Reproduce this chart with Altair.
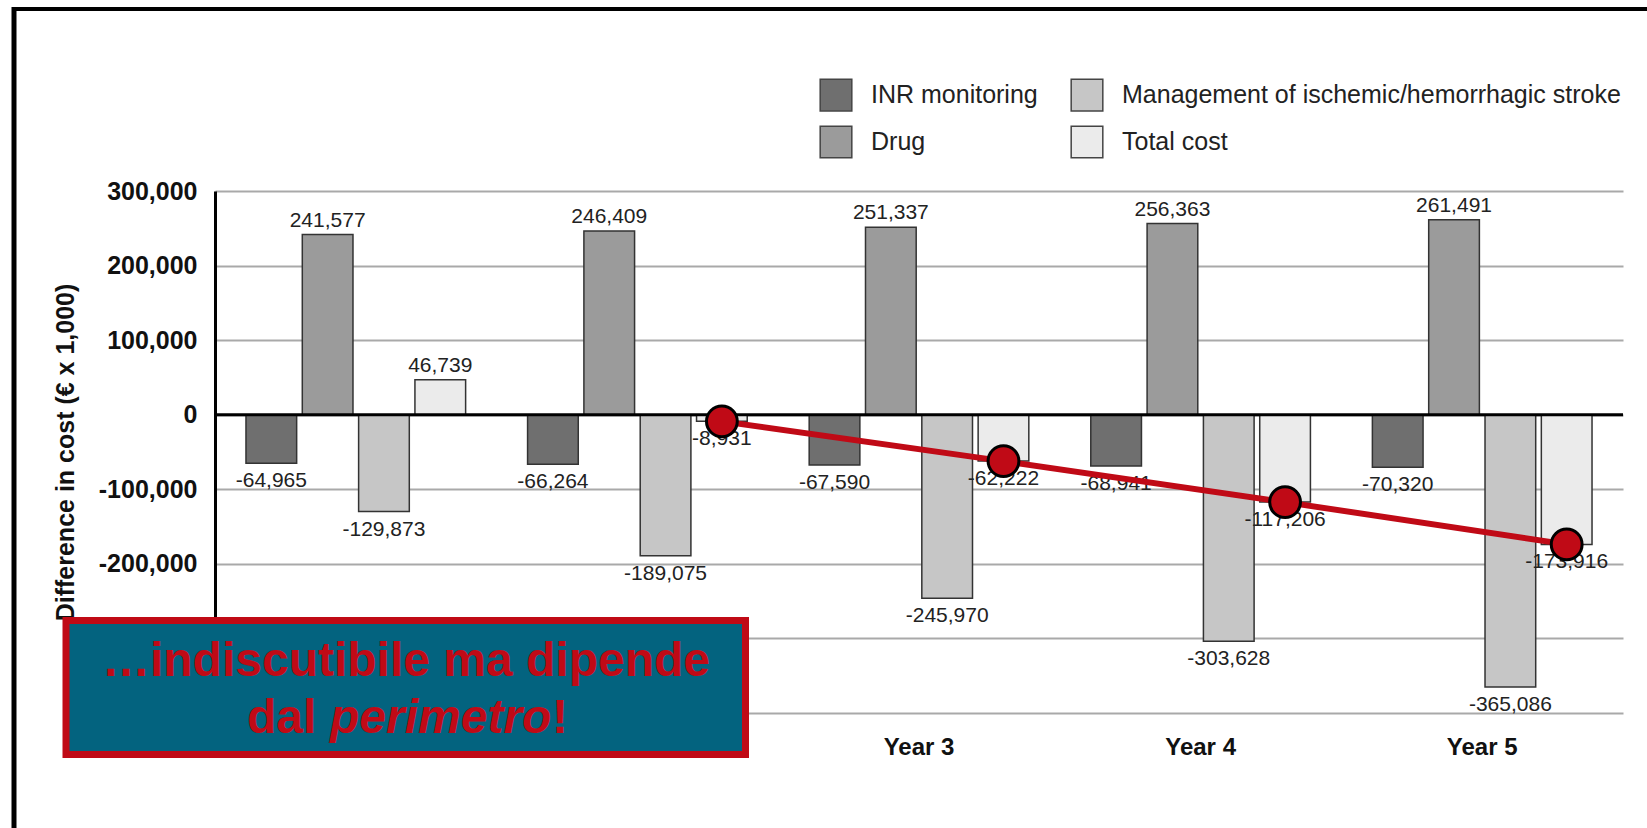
import altair as alt
import pandas as pd

# ---------------- data ----------------
years = ["Year 1", "Year 2", "Year 3", "Year 4", "Year 5"]
series = ["INR monitoring", "Drug", "Management of ischemic/hemorrhagic stroke", "Total cost"]
inr = [-64965, -66264, -67590, -68941, -70320]
drug = [241577, 246409, 251337, 256363, 261491]
mgmt = [-129873, -189075, -245970, -303628, -365086]
total = [46739, -8931, -62222, -117206, -173916]
trend_years = ["Year 2", "Year 3", "Year 4", "Year 5"]
y_ticks = [300000, 200000, 100000, 0, -100000, -200000, -300000, -400000]
series_colors = ["#6f6f6f", "#9b9b9b", "#c6c6c6", "#ebebeb"]
box_line1 = "…indiscutibile ma dipende"
box_line2 = ["dal ", "perimetro", "!"]

rows = []
for s, vals in zip(series, [inr, drug, mgmt, total]):
    for yr, v in zip(years, vals):
        rows.append({"year": yr, "series": s, "value": v, "label": f"{v:,}"})
df = pd.DataFrame(rows)
trend = df[(df.series == "Total cost") & (df.year.isin(trend_years))]
one = pd.DataFrame({"k": [0]})

W, H = 1408, 522
FONT = "Liberation Sans"
RED = "#c00a16"

x_enc = alt.X("year:N", sort=years,
              scale=alt.Scale(paddingInner=0.22, paddingOuter=0.11),
              axis=alt.Axis(title=None, labelFont=FONT, labelFontSize=24, labelFontWeight="bold",
                            labelColor="#111", ticks=False, domain=False, labelPadding=22,
                            labelAngle=0, grid=False))
xo_enc = alt.XOffset("series:N", sort=series, scale=alt.Scale(paddingInner=0.1, paddingOuter=0))
y_enc = alt.Y("value:Q",
              scale=alt.Scale(domain=[-400000, 300000], nice=False, zero=False),
              axis=alt.Axis(values=y_ticks, format=",d", labelExpr="replace(datum.label, '−', '-')",
                            title="Difference in cost (€ x 1,000)",
                            titleFont=FONT, titleFontSize=25, titleFontWeight="bold", titleColor="#111",
                            titlePadding=20, labelFont=FONT, labelFontSize=25, labelFontWeight="bold",
                            labelColor="#111", ticks=False, labelPadding=18, domainColor="#000",
                            domainWidth=3, gridColor="#a9a9a9", gridWidth=2))

base = alt.Chart(df)

bars = base.mark_bar(stroke="#333", strokeWidth=1.5).encode(
    x=x_enc, xOffset=xo_enc, y=y_enc,
    color=alt.Color("series:N",
                    scale=alt.Scale(domain=series, range=series_colors),
                    legend=alt.Legend(title=None, orient="none", legendX=604, legendY=-113, columns=2,
                                      symbolType="square", symbolSize=1000, symbolStrokeColor="#444",
                                      symbolStrokeWidth=1.5, labelFont=FONT, labelFontSize=25,
                                      labelColor="#222", labelOffset=18, columnPadding=30,
                                      rowPadding=9, padding=0, labelLimit=0)),
)

zero = alt.Chart(one).mark_rule(color="#000", strokeWidth=3).encode(y=alt.datum(0))

pos_labels = base.transform_filter(alt.datum.value >= 0).mark_text(
    font=FONT, fontSize=21, color="#222", baseline="alphabetic", dy=-8
).encode(x=alt.X("year:N", sort=years), xOffset=alt.XOffset("series:N", sort=series),
         y="value:Q", text="label:N")

neg_labels = base.transform_filter(alt.datum.value < 0).mark_text(
    font=FONT, fontSize=21, color="#222", baseline="top", dy=7
).encode(x=alt.X("year:N", sort=years), xOffset=alt.XOffset("series:N", sort=series),
         y="value:Q", text="label:N")

line = alt.Chart(trend).mark_line(color=RED, strokeWidth=6).encode(
    x=alt.X("year:N", sort=years), xOffset=alt.XOffset("series:N", sort=series), y="value:Q")
dots = alt.Chart(trend).mark_circle(size=950, color=RED, stroke="#000", strokeWidth=3, opacity=1).encode(
    x=alt.X("year:N", sort=years), xOffset=alt.XOffset("series:N", sort=series), y="value:Q")

box = alt.Chart(one).mark_rect(fill="#03637f", stroke=RED, strokeWidth=7).encode(
    x=alt.value(-149), x2=alt.value(530.5), y=alt.value(429.5), y2=alt.value(563.5))

t1 = alt.Chart(one).mark_text(text=box_line1, font=FONT, fontSize=48, fontWeight="bold",
                              color=RED, align="center", baseline="alphabetic").encode(
    x=alt.value(191), y=alt.value(485))
t2a = alt.Chart(one).mark_text(text=box_line2[0], font=FONT, fontSize=48, fontWeight="bold",
                               color=RED, align="left", baseline="alphabetic").encode(
    x=alt.value(32), y=alt.value(542))
t2b = alt.Chart(one).mark_text(text=box_line2[1], font=FONT, fontSize=48, fontWeight="bold",
                               fontStyle="italic", color=RED, align="left", baseline="alphabetic").encode(
    x=alt.value(115), y=alt.value(542))
t2c = alt.Chart(one).mark_text(text=box_line2[2], font=FONT, fontSize=48, fontWeight="bold",
                               color=RED, align="left", baseline="alphabetic").encode(
    x=alt.value(337), y=alt.value(542))

top_border = alt.Chart(one).mark_rule(color="#000", strokeWidth=4).encode(
    x=alt.value(-203), x2=alt.value(1432), y=alt.value(-182))
left_border = alt.Chart(one).mark_rule(color="#000", strokeWidth=5).encode(
    x=alt.value(-201), y=alt.value(-184), y2=alt.value(637))

chart = alt.layer(
    bars, zero, pos_labels, neg_labels, line, dots, box, t1, t2a, t2b, t2c, top_border, left_border
).properties(
    width=W, height=H, autosize=alt.AutoSizeParams(type="none"),
    padding={"left": 215, "top": 191, "right": 24, "bottom": 115},
    background="white",
).configure_view(strokeWidth=0)

chart.save("out.html", embed_options={"renderer": "svg", "actions": False})
